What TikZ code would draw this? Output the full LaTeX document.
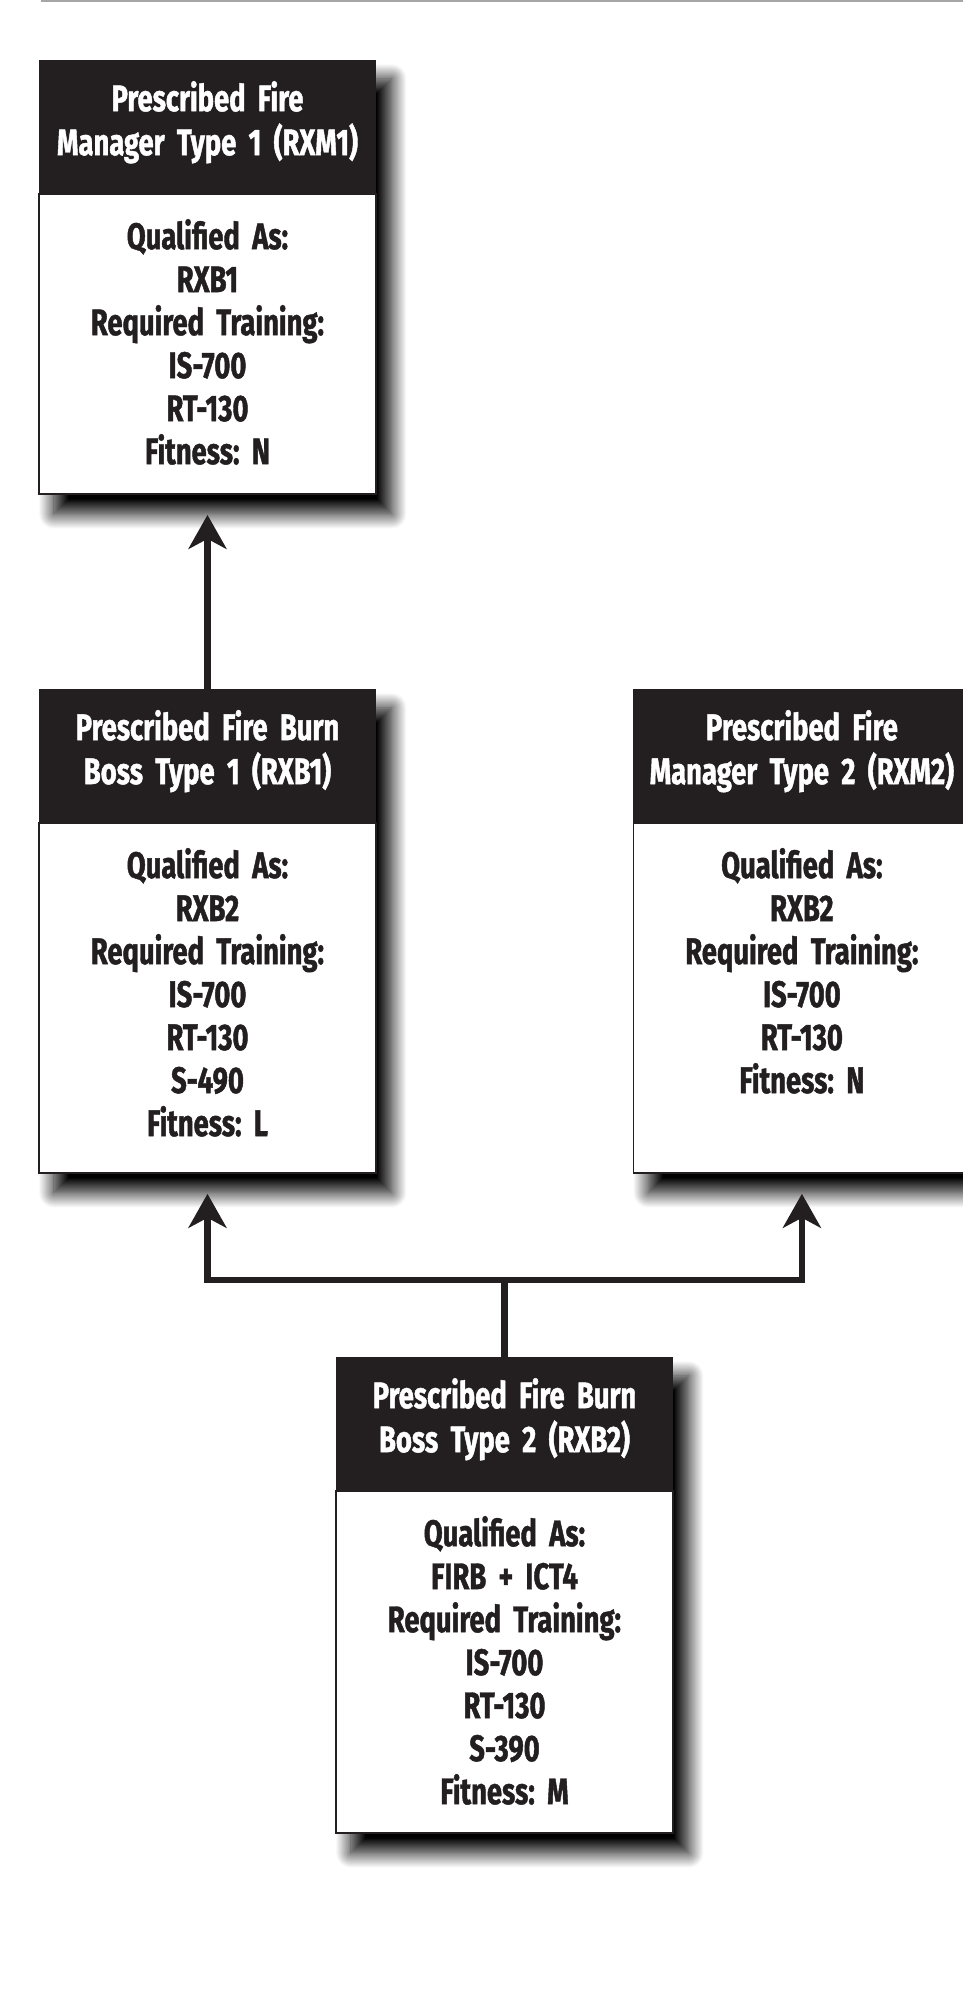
\documentclass[tikz,border=0pt]{standalone}
\usepackage{fontspec}
\setmainfont{Fira Sans}[FakeStretch=0.74,WordSpace=0.8,BoldFeatures={FakeBold=1.2}]
\usetikzlibrary{arrows.meta,positioning,shadows.blur,backgrounds}
\definecolor{ink}{HTML}{231F20}
\definecolor{rulegray}{HTML}{A6A6A6}
\frenchspacing

\begin{document}
\begin{tikzpicture}[x=1pt,y=1pt,->,>={Stealth[length=34pt,width=38pt,inset=10pt]},
  head/.style={fill=ink,text=white,anchor=north,text width=337pt,align=center,inner sep=0pt,
    text height=51pt,text depth=82pt,font=\bfseries\fontsize{37}{44}\selectfont},
  card/.style={draw=ink,line width=1.5pt,fill=white,text=ink,text width=337pt,align=center,
    inner sep=0pt,text height=55pt,font=\bfseries\fontsize{37}{43}\selectfont},
  link/.style={draw=ink,line width=6.5pt,shorten >=20pt},
  drop/.style={blur shadow={shadow xshift=15pt,shadow yshift=-19pt,shadow blur radius=15pt,
    shadow blur steps=24,shadow opacity=100}}]

 \useasboundingbox (0,0) rectangle (963,1997);
 \draw[-,rulegray,line width=2pt] (41,1996) -- (963,1996);

 % top row
 \node[head] (rxm1) at (207.5,1937) {Prescribed Fire\\Manager Type 1 (RXM1)};
 \node[card,text depth=245pt] (rxm1-body) [below=0pt of rxm1]
   {Qualified As:\\RXB1\\Required Training:\\IS-700\\RT-130\\Fitness: N};

 % middle row
 \node[head] (rxb1) [below=194pt of rxm1-body] {Prescribed Fire Burn\\Boss Type 1 (RXB1)};
 \node[card,text depth=295pt] (rxb1-body) [below=0pt of rxb1]
   {Qualified As:\\RXB2\\Required Training:\\IS-700\\RT-130\\S-490\\Fitness: L};
 \node[head] (rxm2) [right=257pt of rxb1] {Prescribed Fire\\Manager Type 2 (RXM2)};
 \node[card,text depth=295pt] (rxm2-body) [below=0pt of rxm2]
   {Qualified As:\\RXB2\\Required Training:\\IS-700\\RT-130\\Fitness: N};

 % bottom row
 \node[head] (rxb2) at (504.5,640) {Prescribed Fire Burn\\Boss Type 2 (RXB2)};
 \node[card,text depth=287pt] (rxb2-body) [below=0pt of rxb2]
   {Qualified As:\\FIRB + ICT4\\Required Training:\\IS-700\\RT-130\\S-390\\Fitness: M};
 \coordinate[above=77pt of rxb2] (fork);

 \draw[link] (rxb1.north) -- (rxm1-body.south);
 \draw[link] (rxb2.north) -- (fork) -| (rxb1-body.south);
 \draw[link] (rxb2.north) -- (fork) -| (rxm2-body.south);

 \begin{scope}[on background layer]
  \foreach \card in {rxm1,rxb1,rxm2,rxb2}
   \path[drop] (\card.north west) rectangle (\card-body.south east);
 \end{scope}
\end{tikzpicture}
\end{document}
